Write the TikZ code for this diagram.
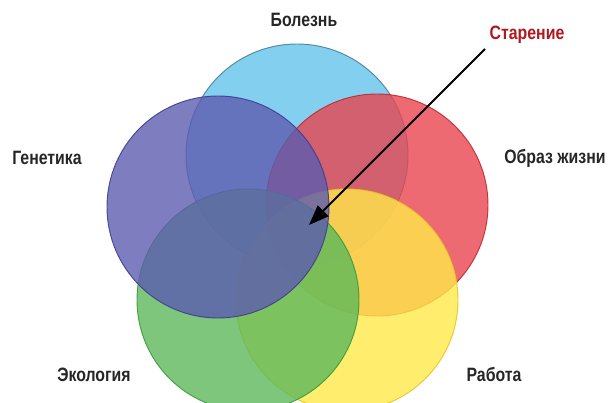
\documentclass[tikz,border=0pt]{standalone}
\usepackage{fontspec}
\setmainfont{Liberation Sans}[FakeStretch=0.82]
\usetikzlibrary{positioning, calc, arrows.meta}

\definecolor{cyanfill}{HTML}{63C3EB}
\definecolor{cyandraw}{HTML}{4A7E96}
\definecolor{redfill}{HTML}{E8454F}
\definecolor{reddraw}{HTML}{C0262E}
\definecolor{yellowfill}{HTML}{FFE94A}
\definecolor{yellowdraw}{HTML}{E6C61E}
\definecolor{greenfill}{HTML}{5CB85A}
\definecolor{greendraw}{HTML}{3A9A3A}
\definecolor{purplefill}{HTML}{5D5CB0}
\definecolor{purpledraw}{HTML}{3D3C90}
\definecolor{agingred}{HTML}{B0181F}

\begin{document}
\begin{tikzpicture}
    [x=0.03cm, y=-0.03cm,
    circlenode/.style={circle, minimum size=6.66cm, inner sep=0pt, fill opacity=0.8, draw opacity=0.9, line width=0.8pt},
    labelnode/.style={font=\bfseries\fontsize{16.5}{18}\selectfont, text=black!85},]

    \useasboundingbox (0,0) rectangle (612,403);

    %Circles
    \node[circlenode, fill=cyanfill, draw=cyandraw](bolezn) at (297,155){};
    \node[circlenode, fill=redfill, draw=reddraw](obraz) at (377,205){};
    \node[circlenode, fill=yellowfill, draw=yellowdraw](rabota) at (347,300){};
    \node[circlenode, fill=greenfill, draw=greendraw](ekologia) at (248,300){};
    \node[circlenode, fill=purplefill, draw=purpledraw](genetika) at (218,207){};

    %Labels
    \node[labelnode](Lbolezn) at (304,20){Болезнь};
    \node[labelnode](Lobraz) at (555,158){Образ жизни};
    \node[labelnode](Lrabota) at (494,375){Работа};
    \node[labelnode](Lekologia) at (94,375){Экология};
    \node[labelnode](Lgenetika) at (47,158){Генетика};
    \node[labelnode, text=agingred](Lstarenie) at (527,35){Старение};

    %Arrow
    \coordinate (start) at (485,49);
    \coordinate (tip) at (309,225);
    \draw[-{Triangle[length=0.6cm, width=0.45cm]}, line width=1.7pt] (start) -- (tip);
\end{tikzpicture}
\end{document}
